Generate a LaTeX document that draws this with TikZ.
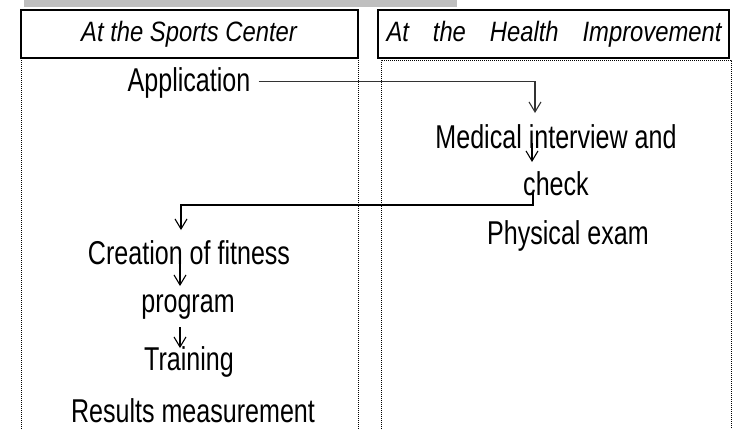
\documentclass[tikz,border=0pt]{standalone}
\usepackage{fontspec}
\usepackage{tikz}
\usetikzlibrary{arrows.meta}
\newfontfamily\narrowsans[FakeStretch=0.76]{Liberation Sans}
\newfontfamily\hdrsans[FakeStretch=0.85]{Liberation Sans}

\begin{document}
\begin{tikzpicture}[x=1pt,y=-1pt,
        lane/.style={line width=1pt,dash pattern=on 1pt off 1pt},
        hdr/.style={draw,line width=1.6pt},
        hdrtext/.style={font=\hdrsans\itshape\fontsize{28}{32}\selectfont,inner sep=0pt},
        stepbox/.style={font=\narrowsans\fontsize{33}{36}\selectfont,inner sep=0pt,anchor=base},
        flow/.style={line width=1.1pt,-{Straight Barb[length=10pt,width=12pt]}}]

    \useasboundingbox (0,0) rectangle (747,429);
    \fill[gray!50] (24,0) rectangle (457,7);

    % swim lanes
    \draw[hdr] (21,10) rectangle (358,58);
    \draw[hdr] (378,10) rectangle (729,58);
    \draw[lane] (21,58) -- (21,429);
    \draw[lane] (358,58) -- (358,429);
    \draw[lane] (381,429) -- (381,60) -- (731,60) -- (731,429);

    \node[hdrtext] (sports) at (189,34) {At the Sports Center};
    \node[hdrtext] (health) at (554,34) {\hbox to 335pt{At\hfill the\hfill Health\hfill Improvement}};

    % steps
    \node[stepbox] (app)   at (189,91)  {Application};
    \node[stepbox] (med)   at (556,148) {Medical interview and};
    \node[stepbox] (chk)   at (556,195) {check};
    \node[stepbox] (phys)  at (568,244) {Physical exam};
    \node[stepbox] (cre)   at (189,264) {Creation of fitness};
    \node[stepbox] (prog)  at (188,312) {program};
    \node[stepbox] (train) at (189,370) {Training};
    \node[stepbox] (res)   at (193,422) {Results measurement};

    % connectors
    \draw[flow,draw=black!80] ([xshift=8pt,yshift=1pt]app.east) -| ([xshift=-21pt,yshift=35pt]med.base);
    \draw[flow] ([xshift=-24pt,yshift=5pt]med.base) -- ([xshift=-24pt,yshift=33pt]chk.base);
    \draw[flow] ([xshift=-23pt,yshift=2pt]chk.base) -- ++(0,12) -| ([xshift=-8pt,yshift=34pt]cre.base);
    \draw[flow] ([xshift=-9pt,yshift=1pt]cre.base) -- ([xshift=-8pt,yshift=26pt]prog.base);
    \draw[flow] ([xshift=-8pt,yshift=-15pt]prog.base) -- ([xshift=-9pt,yshift=22pt]train.base);
\end{tikzpicture}
\end{document}
